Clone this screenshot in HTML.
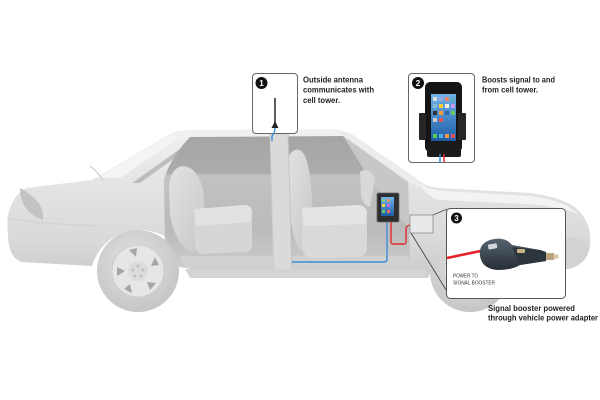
<!DOCTYPE html>
<html><head><meta charset="utf-8"><style>
html,body{margin:0;padding:0;background:#fff;}
svg{display:block}
text{font-family:"Liberation Sans",Arial,sans-serif;}
</style></head><body>
<svg width="600" height="400" viewBox="0 0 600 400" xmlns="http://www.w3.org/2000/svg">
<defs>
<linearGradient id="body" x1="0" y1="0" x2="0" y2="1">
 <stop offset="0" stop-color="#f1f1f1"/>
 <stop offset="0.35" stop-color="#e4e4e4"/>
 <stop offset="0.75" stop-color="#d9d9d9"/>
 <stop offset="1" stop-color="#c9c9c9"/>
</linearGradient>
<linearGradient id="inter" x1="0" y1="0" x2="0" y2="1">
 <stop offset="0" stop-color="#a6a4a5"/>
 <stop offset="0.28" stop-color="#adabac"/>
 <stop offset="0.30" stop-color="#c3c1c2"/>
 <stop offset="0.7" stop-color="#bbb9ba"/>
 <stop offset="1" stop-color="#cdcdcd"/>
</linearGradient>
<radialGradient id="tire" cx="0.45" cy="0.4" r="0.6">
 <stop offset="0" stop-color="#e2e2e2"/>
 <stop offset="1" stop-color="#c6c6c6"/>
</radialGradient>
<linearGradient id="seat" x1="0" y1="0" x2="1" y2="1">
 <stop offset="0" stop-color="#e2e2e2"/>
 <stop offset="1" stop-color="#c7c7c7"/>
</linearGradient>
<linearGradient id="scr" x1="0" y1="0" x2="0" y2="1">
 <stop offset="0" stop-color="#6fb4ea"/>
 <stop offset="1" stop-color="#1e5ca6"/>
</linearGradient>
<linearGradient id="adp" x1="0" y1="0" x2="0" y2="1">
 <stop offset="0" stop-color="#56636e"/>
 <stop offset="1" stop-color="#262e36"/>
</linearGradient>
</defs>

<!-- front wheel -->
<circle cx="470" cy="272" r="40" fill="url(#tire)"/>
<circle cx="470" cy="272" r="25" fill="#e2e2e2"/>

<!-- car body -->
<path d="M8,234 C5,214 12,196 26,188 L92,180 L170,134 Q177,130 190,130 L332,129 Q341,129 349,134 L420,182 Q427,187 440,188 L530,193 Q568,198 580,212 Q592,225 590,246 Q588,262 572,268 L512,280 A44 44 0 0 0 428,278 L190,278 A50 50 0 0 0 92,266 L22,262 Q8,258 8,234 Z" fill="url(#body)"/>

<!-- roof highlight -->
<path d="M176,134 Q182,131 192,131 L330,130 Q338,130 345,135 L350,139 L190,139 Z" fill="#f0f0f0"/>
<!-- A pillar strip -->
<path d="M340,131 Q348,131 356,137 L426,185 L418,188 L345,140 Z" fill="#ececec"/>
<!-- hood highlight -->
<path d="M420,184 Q428,190 445,191 L530,196 Q565,200 578,214 Q560,206 525,204 L440,200 Q425,196 420,184 Z" fill="#f3f3f3"/>
<!-- rear window light -->
<path d="M96,178 L170,135 L180,137 L120,178 Z" fill="#f4f4f4"/>
<path d="M90,166 Q96,170 103,180" fill="none" stroke="#bdbdbd" stroke-width="0.8"/>
<!-- C pillar dark sliver -->
<path d="M132,183 L180,149 L187,149 L140,183 Z" fill="#bdbdbd"/>
<!-- taillight -->
<path d="M20,188 Q20,212 43,220 Q44,208 36,200 Q28,192 20,188 Z" fill="#c3c3c3"/>
<!-- bumper groove -->
<path d="M7,218 Q40,224 98,226" fill="none" stroke="#d3d3d3" stroke-width="1.2"/>
<path d="M12,252 Q50,258 94,260" fill="none" stroke="#cfcfcf" stroke-width="1"/>
<!-- front bumper lower -->
<path d="M560,238 Q585,236 589,246 Q588,262 572,268 L548,273 Z" fill="#d2d2d2"/>

<!-- interior opening -->
<path d="M190,137 L343,136 L408,182 L410,258 Q410,268 398,268 L185,268 Q168,266 165,250 L164,180 Q170,158 190,137 Z" fill="url(#inter)"/>
<!-- dashboard / A-pillar inner -->
<path d="M343,136 L408,182 L409,228 L388,203 L368,176 Z" fill="#c7c7c7"/>
<path d="M360,172 Q368,166 375,178 L370,207 Q364,207 361,196 Z" fill="#d8d8d8"/>
<!-- floor -->
<path d="M180,256 L408,256 L410,262 Q409,268 398,268 L185,268 Z" fill="#d1d1d1"/>

<!-- rear seat -->
<path d="M169,185 Q172,166 184,166 Q198,168 203,190 L207,235 Q204,253 192,252 Q176,246 170,215 Z" fill="url(#seat)"/>
<path d="M194,209 L246,205 Q252,206 252,213 L252,246 Q251,252 244,252 L200,254 Q195,250 195,240 Z" fill="#d6d6d6"/>
<path d="M194,209 L246,205 Q252,206 252,213 L250,222 L196,226 Z" fill="#e2e2e2"/>

<!-- front seat -->
<path d="M288,158 Q292,148 300,150 Q310,156 312,200 L314,240 Q309,252 299,249 Q291,236 289,200 Z" fill="url(#seat)"/>
<path d="M302,208 L359,205 Q367,206 367,214 L367,250 Q365,257 357,257 L308,258 Q302,254 302,244 Z" fill="#d9d9d9"/>
<path d="M302,208 L359,205 Q367,206 367,214 L365,224 L304,226 Z" fill="#e4e4e4"/>

<!-- B pillar -->
<path d="M270,130 L288,130 L292,278 L274,278 Z" fill="#dadada"/>
<path d="M288,132 L292,278" stroke="#c4c4c4" stroke-width="1"/>
<path d="M270,132 L274,278" stroke="#cdcdcd" stroke-width="1"/>

<!-- sill -->
<path d="M185,269 L425,269 L428,278 L190,278 Z" fill="#d4d4d4"/>

<!-- rear wheel -->
<circle cx="138" cy="271" r="41" fill="url(#tire)"/>
<circle cx="138" cy="271" r="26" fill="#e6e6e6" stroke="#cdcdcd" stroke-width="1"/>
<g fill="#a5a5a5">
 <path d="M129,250 L137,248 L136,257 Z"/>
 <path d="M155,257 L159,265 L151,266 Z"/>
 <path d="M156,283 L150,290 L147,282 Z"/>
 <path d="M132,293 L124,289 L130,284 Z"/>
 <path d="M117,276 L117,267 L125,271 Z"/>
</g>
<circle cx="138" cy="271" r="10" fill="#dcdcdc"/>
<g fill="#c0c0c0">
 <circle cx="138" cy="266" r="1.5"/><circle cx="143" cy="270" r="1.5"/><circle cx="141" cy="276" r="1.5"/><circle cx="135" cy="276" r="1.5"/><circle cx="133" cy="270" r="1.5"/>
</g>

<!-- cables -->
<path d="M275,128 Q275,132 272,136 L272,141" fill="none" stroke="#3a8fd8" stroke-width="1.4"/>
<path d="M292,262 L384,262 Q387,262 387,259 L387,221" fill="none" stroke="#3a8fd8" stroke-width="1.4"/>
<path d="M391,221 L391,242 Q391,244 393,244 L404,244 Q406,244 406,242 L406,229 Q406,226 410,225 L414,224" fill="none" stroke="#e02a2a" stroke-width="1.4"/>

<!-- small phone on dash -->
<rect x="377" y="193" width="22" height="29" rx="1.5" fill="#2e2e2e" stroke="#666" stroke-width="0.8"/>
<rect x="381" y="197" width="13" height="19" fill="url(#scr)"/>
<rect x="382" y="199" width="3" height="3" fill="#8c8"/><rect x="387" y="199" width="3" height="3" fill="#e96"/>
<rect x="382" y="204" width="3" height="3" fill="#fc4"/><rect x="387" y="204" width="3" height="3" fill="#c6e"/>
<rect x="382" y="210" width="3" height="3" fill="#6c6"/><rect x="387" y="210" width="3" height="3" fill="#f66"/>

<!-- zoom square + connectors -->
<rect x="410" y="215" width="23" height="18" fill="#e9e9e9" stroke="#8a8a8a" stroke-width="0.8"/>
<path d="M433,215 L447,209" stroke="#555" stroke-width="0.9"/>
<path d="M411,233 L448,293" stroke="#444" stroke-width="0.9"/>

<!-- Box 1 -->
<rect x="252.5" y="73.5" width="45" height="60" rx="3.5" fill="#fff" stroke="#666" stroke-width="1"/>
<circle cx="261.5" cy="83" r="6" fill="#111"/>
<text x="261.5" y="86.2" font-size="8.5" font-weight="bold" fill="#fff" text-anchor="middle">1</text>
<line x1="275" y1="98" x2="275" y2="124" stroke="#333" stroke-width="1.6"/>
<path d="M271.5,128 L275,121 L278.5,128 Z" fill="#222"/>
<path d="M275,128 L274,134" stroke="#3a8fd8" stroke-width="1.4"/>

<text font-size="8.2" font-weight="bold" fill="#222">
 <tspan x="303" y="82.5" textLength="60" lengthAdjust="spacingAndGlyphs">Outside antenna</tspan>
 <tspan x="303" y="92.5" textLength="71" lengthAdjust="spacingAndGlyphs">communicates with</tspan>
 <tspan x="303" y="103" textLength="37" lengthAdjust="spacingAndGlyphs">cell tower.</tspan>
</text>

<!-- Box 2 -->
<rect x="408.5" y="73.5" width="66" height="89" rx="3.5" fill="#fff" stroke="#666" stroke-width="1"/>
<circle cx="418" cy="83" r="6" fill="#111"/>
<text x="418" y="86.2" font-size="8.5" font-weight="bold" fill="#fff" text-anchor="middle">2</text>
<rect x="425" y="82" width="37" height="70" rx="5" fill="#151515"/>
<rect x="431" y="94" width="25" height="47" fill="url(#scr)"/>
<g>
 <rect x="433" y="97" width="4" height="4" fill="#ddd"/><rect x="439" y="97" width="4" height="4" fill="#9ad"/><rect x="445" y="97" width="4" height="4" fill="#e86"/><rect x="451" y="97" width="4" height="4" fill="#6ac"/>
 <rect x="433" y="104" width="4" height="4" fill="#8bd"/><rect x="439" y="104" width="4" height="4" fill="#fc3"/><rect x="445" y="104" width="4" height="4" fill="#eee"/><rect x="451" y="104" width="4" height="4" fill="#c9e"/>
 <rect x="433" y="111" width="4" height="4" fill="#333"/><rect x="439" y="111" width="4" height="4" fill="#f93"/><rect x="445" y="111" width="4" height="4" fill="#36a"/><rect x="451" y="111" width="4" height="4" fill="#6c6"/>
 <rect x="433" y="118" width="4" height="4" fill="#ccc"/><rect x="439" y="118" width="4" height="4" fill="#e55"/>
 <rect x="433" y="134" width="4" height="4" fill="#5c5"/><rect x="439" y="134" width="4" height="4" fill="#5ad"/><rect x="445" y="134" width="4" height="4" fill="#f94"/><rect x="451" y="134" width="4" height="4" fill="#d55"/>
</g>
<rect x="419" y="113" width="7" height="27" rx="1" fill="#262626"/>
<rect x="458" y="113" width="8" height="27" rx="1" fill="#262626"/>
<rect x="427" y="142" width="34" height="15" rx="2" fill="#1b1b1b"/>
<line x1="440" y1="154" x2="440" y2="162" stroke="#3a8fd8" stroke-width="1.5"/>
<line x1="444" y1="154" x2="444" y2="162" stroke="#e02a2a" stroke-width="1.5"/>

<text font-size="8.2" font-weight="bold" fill="#222">
 <tspan x="482" y="82.5" textLength="73" lengthAdjust="spacingAndGlyphs">Boosts signal to and</tspan>
 <tspan x="482" y="92.5" textLength="56" lengthAdjust="spacingAndGlyphs">from cell tower.</tspan>
</text>

<!-- Box 3 -->
<rect x="446.5" y="208.5" width="119" height="90" rx="4" fill="#fff" stroke="#555" stroke-width="1"/>
<circle cx="456.5" cy="218" r="5.5" fill="#111"/>
<text x="456.5" y="221" font-size="8" font-weight="bold" fill="#fff" text-anchor="middle">3</text>
<path d="M447,258 L490,249" stroke="#e8202a" stroke-width="2.6"/>
<path d="M480,256 Q478,242 494,239 Q506,237 512,245 L540,250 L546,252 L546,261 L520,265 Q512,270 498,270 Q482,269 480,256 Z" fill="url(#adp)"/>
<path d="M512,247 L540,250 L546,252 L546,261 L520,265 Z" fill="#2d353c"/>
<rect x="488" y="244" width="9" height="5" rx="1" fill="#cfd6dc" transform="rotate(-10 492 246)"/>
<rect x="517" y="249" width="8" height="4" rx="1" fill="#c9b48a"/>
<rect x="546" y="253" width="8" height="7" fill="#b9a57d"/>
<circle cx="556" cy="256.5" r="2.5" fill="#d9c9a3"/>
<text font-size="5.6" fill="#333">
 <tspan x="453" y="277.5" textLength="25" lengthAdjust="spacingAndGlyphs">POWER TO</tspan>
 <tspan x="453" y="284.5" textLength="42" lengthAdjust="spacingAndGlyphs">SIGNAL BOOSTER</tspan>
</text>

<text font-size="8.2" font-weight="bold" fill="#222">
 <tspan x="488" y="311" textLength="87" lengthAdjust="spacingAndGlyphs">Signal booster powered</tspan>
 <tspan x="488" y="320.5" textLength="110" lengthAdjust="spacingAndGlyphs">through vehicle power adapter</tspan>
</text>
</svg>
</body></html>
